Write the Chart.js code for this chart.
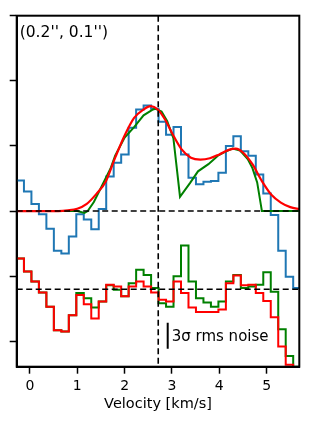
<!DOCTYPE html>
<html>
<head>
<meta charset="utf-8">
<script src="https://cdn.jsdelivr.net/npm/chart.js@4.4.0/dist/chart.umd.min.js"></script>
<style>
  html, body { margin: 0; padding: 0; background: #fff; }
  #wrap { width: 315px; height: 424px; }
</style>
</head>
<body>
<div id="wrap"><canvas id="spec"></canvas></div>
<script>
"use strict";

// channel grid (km/s)
const chanStart = -0.364;
const chanWidth = 0.158;

// observed spectrum, one value per channel
const observed = [0.47, 0.47, 0.30, 0.11, -0.05, -0.27, -0.61, -0.65, -0.39, -0.05,
                  -0.13, -0.28, 0.03, 0.53, 0.74, 0.87, 1.28, 1.56, 1.62, 1.57,
                  1.37, 1.17, 1.29, 0.87, 0.51, 0.41, 0.45, 0.46, 0.59, 1.00,
                  1.15, 0.92, 0.85, 0.56, 0.27, -0.06, -0.61, -1.01, -1.18, -1.18];

// residuals (data - model), shifted down by residOffset when drawn
const residRed = [0.47, 0.47, 0.27, 0.12, -0.05, -0.27, -0.63, -0.65, -0.40, -0.09,
                  -0.23, -0.45, -0.19, 0.07, 0.04, -0.11, 0.04, 0.12, 0.04, -0.05,
                  -0.16, -0.19, 0.12, -0.06, -0.28, -0.35, -0.35, -0.35, -0.31, 0.09,
                  0.21, 0.06, 0.07, -0.06, -0.18, -0.43, -0.88, -1.16, -1.30, -1.30];
const residGreen = [0.47, 0.47, 0.27, 0.12, -0.05, -0.27, -0.63, -0.65, -0.40, -0.06,
                    -0.14, -0.28, -0.19, 0.06, -0.01, -0.11, 0.09, 0.30, 0.22, 0.02,
                    -0.215, -0.27, 0.20, 0.67, 0.12, -0.14, -0.205, -0.27, -0.19, 0.12,
                    0.22, 0.02, 0.04, 0.07, 0.26, -0.04, -0.615, -1.025, -1.19, -1.19];

// model fits
const redModelV = [-0.3, 0.6, 0.8, 1.0, 1.2, 1.4, 1.6, 1.8, 2.0, 2.2, 2.4, 2.55, 2.7, 2.85,
                   3.0, 3.2, 3.4, 3.6, 3.8, 4.0, 4.2, 4.35, 4.5, 4.7, 4.9, 5.1, 5.3, 5.5, 5.7];
const redModelF = [0, 0, 0.01, 0.035, 0.11, 0.26, 0.45, 0.82, 1.16, 1.43, 1.56, 1.61, 1.56, 1.41,
                   1.20, 0.95, 0.82, 0.79, 0.81, 0.87, 0.94, 0.96, 0.90, 0.72, 0.46, 0.25, 0.13, 0.06, 0.03];
const greenModelV = [-0.3, 1.0, 1.15, 1.22, 1.35, 1.55, 1.7, 1.8, 2.0, 2.2, 2.4, 2.6, 2.65, 2.78,
                     2.9, 3.03, 3.17, 3.38, 3.55, 3.77, 3.97, 4.12, 4.28, 4.44, 4.6, 4.7, 4.8, 4.9, 5.7];
const greenModelF = [0, 0, -0.03, 0, 0.14, 0.43, 0.65, 0.85, 1.13, 1.29, 1.47, 1.56, 1.57, 1.53,
                     1.38, 1.12, 0.22, 0.43, 0.61, 0.72, 0.85, 0.91, 0.96, 0.93, 0.80, 0.66, 0.44, 0.0, 0];

const xTicks = [0, 1, 2, 3, 4, 5];
const yTicks = [-2, -1, 0, 1, 2, 3];

const vSys = 2.71;
const residOffset = -1.2;
const noiseV = 2.91;
const noiseMid = -1.916;
const noise3sigma = 0.40;
const posLabel = "(0.2'', 0.1'')";
const noiseLabel = "3\u03c3 rms noise";

const velocity = observed.map((_, i) => +(chanStart + i * chanWidth).toFixed(3));
const pts = (vs, fs, off = 0) => vs.map((v, i) => ({x: v, y: fs[i] + off}));

const overlay = {
  id: "overlay",
  afterDatasetsDraw(chart) {
    const {ctx, chartArea: a, scales: {x, y}} = chart;
    ctx.save();
    ctx.beginPath();
    ctx.rect(a.left, a.top, a.width, a.height);
    ctx.clip();
    ctx.strokeStyle = "#000";
    ctx.lineWidth = 1.6;
    ctx.setLineDash([6, 3.5]);
    [0, residOffset].forEach(v => {
      const py = y.getPixelForValue(v);
      ctx.beginPath();
      ctx.moveTo(a.left, py);
      ctx.lineTo(a.right, py);
      ctx.stroke();
    });
    const px = x.getPixelForValue(vSys);
    ctx.beginPath();
    ctx.moveTo(px, a.top);
    ctx.lineTo(px, a.bottom);
    ctx.stroke();

    // noise bar
    ctx.setLineDash([]);
    ctx.lineWidth = 2;
    const nx = x.getPixelForValue(noiseV);
    ctx.beginPath();
    ctx.moveTo(nx, y.getPixelForValue(noiseMid + noise3sigma / 2));
    ctx.lineTo(nx, y.getPixelForValue(noiseMid - noise3sigma / 2));
    ctx.stroke();

    ctx.fillStyle = "#000";
    ctx.font = "15px 'DejaVu Sans'";
    ctx.textAlign = "left";
    ctx.textBaseline = "alphabetic";
    ctx.fillText(noiseLabel, nx + 4, y.getPixelForValue(noiseMid) + 5);
    ctx.font = "15.5px 'DejaVu Sans'";
    ctx.fillText(posLabel, a.left + 3, a.top + 21.6);
    ctx.restore();
  },
  afterDraw(chart) {
    const {ctx, chartArea: a} = chart;
    ctx.save();
    ctx.strokeStyle = "#000";
    ctx.lineWidth = 2;
    ctx.strokeRect(a.left, a.top, a.width, a.height);
    ctx.restore();
  }
};

Chart.defaults.font.family = "'DejaVu Sans', sans-serif";
Chart.defaults.color = "#000";

const stepStyle = {stepped: "middle", pointRadius: 0, borderWidth: 2, fill: false};
const axisGrid = {drawOnChartArea: false, drawTicks: true, tickLength: 7, tickWidth: 1.5, tickColor: "#000"};
const axisBorder = {display: true, color: "#000", width: 2};

new Chart(document.getElementById("spec"), {
  type: "line",
  data: {
    datasets: [
      {data: pts(redModelV, redModelF), borderColor: "#ff0000", borderWidth: 2.2, pointRadius: 0, cubicInterpolationMode: "monotone"},
      {data: pts(velocity, residRed, residOffset), borderColor: "#ff0000", ...stepStyle},
      {data: pts(greenModelV, greenModelF), borderColor: "#008000", borderWidth: 2, pointRadius: 0, tension: 0},
      {data: pts(velocity, residGreen, residOffset), borderColor: "#008000", ...stepStyle},
      {data: pts(velocity, observed), borderColor: "#1f77b4", ...stepStyle},
    ],
  },
  options: {
    responsive: true,
    maintainAspectRatio: false,
    animation: false,
    layout: {padding: {left: 6.7, top: 15.7, right: 15.7, bottom: 0}},
    plugins: {legend: {display: false}, tooltip: {enabled: false}},
    scales: {
      x: {
        type: "linear",
        min: -0.28,
        max: 5.69,
        afterBuildTicks: s => { s.ticks = xTicks.map(v => ({value: v})); },
        afterFit: s => { s.height = 57.3; },
        grid: axisGrid,
        border: axisBorder,
        ticks: {font: {size: 14}, padding: 4, color: "#000", callback: v => String(v)},
        title: {display: true, text: "Velocity [km/s]", font: {size: 14.5}, padding: {top: 0, bottom: 11}, color: "#000"},
      },
      y: {
        type: "linear",
        min: -2.39,
        max: 3,
        afterBuildTicks: s => { s.ticks = yTicks.map(v => ({value: v})); },
        afterFit: s => { s.width = 10; },
        grid: axisGrid,
        border: axisBorder,
        ticks: {display: false},
      },
    },
  },
  plugins: [overlay],
});
</script>
</body>
</html>
